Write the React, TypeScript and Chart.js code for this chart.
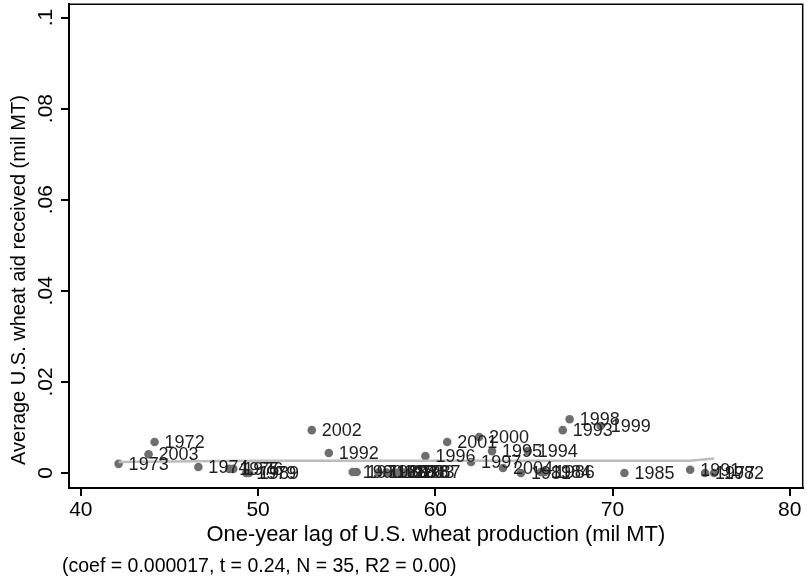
import { useEffect, useRef } from "react";
import { Chart, registerables } from "chart.js";

Chart.register(...registerables);

const years = [
  1973, 1972, 2003, 1974, 1975, 1976, 1979, 1989, 2002, 1992,
  1990, 1971, 1980, 1988, 1970, 1978, 1983, 1987, 1996, 2001,
  2000, 1997, 1995, 2004, 1981, 1994, 1984, 1986, 1998, 1993,
  1999, 1985, 1991, 1977, 1982,
];
const lagProduction = [
  42.13, 44.16, 43.82, 46.63, 48.37, 48.6, 49.33, 49.49, 53.03, 53.99,
  55.34, 55.56, 56.8, 57.25, 57.64, 57.92, 58.26, 58.6, 59.44, 60.67,
  62.47, 62.02, 63.2, 63.82, 64.83, 65.22, 65.96, 66.18, 67.58, 67.19,
  69.33, 70.67, 74.38, 75.22, 75.73,
];
const aidReceived = [
  0.002, 0.0068, 0.0041, 0.0013, 0.0009, 0.0009, 0.0, 0.0, 0.0094, 0.0044,
  0.0002, 0.0002, 0.0001, 0.0001, 0.0001, 0.0001, 0.0001, 0.0001, 0.0037, 0.0068,
  0.0079, 0.0024, 0.0048, 0.0011, 0.0, 0.0048, 0.0002, 0.0002, 0.0118, 0.0094,
  0.0103, 0.0, 0.0007, 0.0, 0.0,
];
const fitX = [42.13, 46.63, 50.0, 55.0, 60.0, 65.0, 70.0, 74.38, 75.73];
const fitY = [0.0024, 0.0026, 0.0027, 0.0027, 0.0027, 0.0027, 0.0027, 0.0027, 0.0032];

const xTickValues = [40, 50, 60, 70, 80];
const yTickValues = [0, 0.02, 0.04, 0.06, 0.08, 0.1];
const yTickLabels = ["0", ".02", ".04", ".06", ".08", ".1"];
const xTitle = "One-year lag of U.S. wheat production (mil MT)";
const yTitle = "Average U.S. wheat aid received (mil MT)";
const footnote = "(coef = 0.000017, t = 0.24, N = 35, R2 = 0.00)";

const FONT = "'Liberation Sans', Arial, sans-serif";

const decorPlugin = {
  id: "decor",
  afterDatasetsDraw(chart: any) {
    const ctx = chart.ctx as CanvasRenderingContext2D;
    const meta = chart.getDatasetMeta(1);
    ctx.save();
    ctx.font = `18px ${FONT}`;
    ctx.fillStyle = "#1e1e1e";
    ctx.textBaseline = "middle";
    ctx.textAlign = "left";
    meta.data.forEach((el: any, i: number) => {
      ctx.fillText(String(years[i]), el.x + 10, el.y + 1);
    });
    ctx.restore();
  },
  afterDraw(chart: any) {
    const ctx = chart.ctx as CanvasRenderingContext2D;
    const { left, right, top, bottom } = chart.chartArea;
    ctx.save();
    ctx.strokeStyle = "#000";
    ctx.lineWidth = 1.5;
    ctx.beginPath();
    ctx.moveTo(left, top);
    ctx.lineTo(right, top);
    ctx.lineTo(right, bottom);
    ctx.stroke();

    const ys = chart.scales.y;
    ctx.fillStyle = "#000";
    ctx.font = `21px ${FONT}`;
    ctx.textAlign = "center";
    ctx.textBaseline = "alphabetic";
    yTickValues.forEach((v, i) => {
      const py = ys.getPixelForValue(v);
      ctx.save();
      ctx.translate(52, py);
      ctx.rotate(-Math.PI / 2);
      ctx.fillText(yTickLabels[i], 0, 0);
      ctx.restore();
    });

    ctx.save();
    ctx.font = `20px ${FONT}`;
    ctx.translate(25, 280);
    ctx.rotate(-Math.PI / 2);
    ctx.fillText(yTitle, 0, 0);
    ctx.restore();

    ctx.font = `19.5px ${FONT}`;
    ctx.textAlign = "left";
    ctx.textBaseline = "middle";
    ctx.fillText(footnote, 62, 567);
    ctx.restore();
  },
};

export default function App() {
  const canvasRef = useRef<HTMLCanvasElement | null>(null);

  useEffect(() => {
    document.body.style.margin = "0";
    const canvas = canvasRef.current;
    if (!canvas) return;
    const chart = new Chart(canvas, {
      type: "scatter",
      data: {
        datasets: [
          {
            data: fitX.map((x, i) => ({ x, y: fitY[i] })),
            showLine: true,
            borderColor: "#bcbcbc",
            borderWidth: 2.5,
            pointRadius: 0,
            tension: 0,
          } as any,
          {
            data: lagProduction.map((x, i) => ({ x, y: aidReceived[i] })),
            backgroundColor: "#6e6e6e",
            borderColor: "#6e6e6e",
            borderWidth: 0,
            pointRadius: 4.3,
          },
        ],
      },
      options: {
        animation: false,
        responsive: false,
        layout: { padding: { top: 4, right: 1, left: 0, bottom: 0 } },
        plugins: { legend: { display: false }, tooltip: { enabled: false } },
        scales: {
          x: {
            type: "linear",
            min: 39.33,
            max: 80.73,
            afterBuildTicks: (s: any) => {
              s.ticks = xTickValues.map((v) => ({ value: v }));
            },
            afterFit: (s: any) => {
              s.height = 93;
              s.paddingLeft = 0;
              s.paddingRight = 0;
            },
            grid: { drawOnChartArea: false, drawTicks: true, tickLength: 8, color: "#000", lineWidth: 2 },
            border: { display: true, color: "#000", width: 2 },
            ticks: {
              color: "#000",
              font: { family: FONT, size: 21 },
              padding: 2,
              maxRotation: 0,
              autoSkip: false,
              callback: (v: any) => String(v),
            },
            title: {
              display: true,
              text: xTitle,
              color: "#000",
              font: { family: FONT, size: 21.9 },
              padding: { top: 0, bottom: 33 },
            },
          },
          y: {
            type: "linear",
            min: -0.0033,
            max: 0.1029,
            afterBuildTicks: (s: any) => {
              s.ticks = yTickValues.map((v) => ({ value: v }));
            },
            afterFit: (s: any) => {
              s.width = 69;
              s.paddingTop = 0;
              s.paddingBottom = 0;
            },
            grid: { drawOnChartArea: false, drawTicks: true, tickLength: 8, color: "#000", lineWidth: 2 },
            border: { display: true, color: "#000", width: 2 },
            ticks: { display: false },
          },
        },
      },
      plugins: [decorPlugin],
    });
    return () => chart.destroy();
  }, []);

  return (
    <div style={{ position: "absolute", left: 0, top: 0, width: 807, height: 581, background: "#fff" }}>
      <canvas ref={canvasRef} width={807} height={581} />
    </div>
  );
}
